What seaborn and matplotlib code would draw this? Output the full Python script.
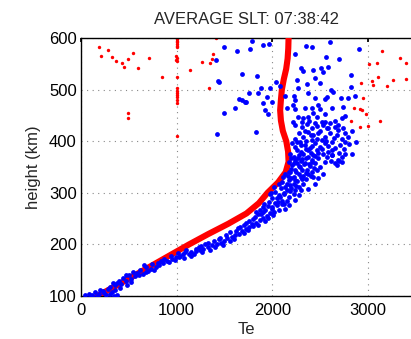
import numpy as np
import pandas as pd
import matplotlib
matplotlib.use('Agg')
import matplotlib.pyplot as plt
import seaborn as sns

# average Te profile (height km -> Te)
prof_h = [100, 120, 140, 160, 180, 200, 220, 240, 260, 280, 300, 320, 340,
          360, 380, 400, 420, 440, 460, 480, 500, 520, 540, 560, 580, 600]
prof_te = [170, 370, 560, 750, 940, 1130, 1330, 1540, 1730, 1860, 1950, 2060, 2140,
           2170, 2165, 2146, 2110, 2090, 2082, 2090, 2100, 2120, 2145, 2160, 2167, 2170]

# blue points (Te, height)
blue_band = [
    (40, 101), (80, 104), (110, 100), (150, 107), (190, 103), (230, 110), (260, 101),
    (300, 104), (340, 100), (380, 102), (200, 112), (280, 113),
    (300, 118), (360, 121), (330, 125), (420, 124), (400, 130), (470, 129), (440, 135), (520, 133),
    (500, 140), (560, 138), (590, 145), (650, 143), (620, 150), (700, 148), (730, 153),
    (680, 156), (780, 157), (820, 160),
    (800, 164), (860, 163), (900, 168), (870, 171), (950, 172), (990, 175), (940, 177),
    (1040, 178), (1070, 182), (1010, 183), (1130, 181), (1150, 186), (1100, 189), (1200, 187),
    (1240, 190), (1280, 192), (1230, 195), (1330, 194), (1370, 198), (1300, 200), (1420, 200),
    (1460, 203), (1390, 206), (1500, 207), (1440, 210),
    (1530, 212), (1580, 214), (1520, 218), (1610, 219), (1650, 221), (1560, 224), (1680, 226),
    (1720, 229), (1640, 231), (1760, 233), (1700, 237),
    (1790, 240), (1830, 242), (1760, 246), (1870, 248), (1900, 251), (1820, 254), (1940, 256),
    (1880, 259), (1980, 261), (2010, 257), (1830, 262), (1870, 266), (1900, 272), (1850, 258),
    (120, 102), (170, 100), (320, 108), (240, 106), (360, 112), (410, 116), (380, 126),
    (480, 122), (520, 128), (470, 140), (540, 146), (610, 140), (680, 147), (660, 160),
    (740, 162), (760, 150), (840, 167), (920, 165), (980, 170), (1020, 176), (1080, 174),
    (1090, 185), (1180, 182), (1260, 186), (1200, 192), (1350, 190), (1400, 195), (1330, 203),
    (1480, 198), (1450, 212), (1560, 206), (1600, 210), (1620, 226), (1700, 222), (1660, 234),
    (1750, 228), (1800, 235), (1720, 242), (1850, 238), (1800, 250), (1920, 245), (1960, 252),
    (1900, 262), (2000, 268), (1150, 178), (1250, 197),
]

blue_core = [
    (2240, 431), (2309, 428), (2361, 433), (2413, 425), (2465, 429), (2534, 431), (2569, 425),
    (2656, 428), (2691, 422), (2743, 425), (2760, 416), (2274, 415), (2326, 409), (2378, 418),
    (2430, 412), (2482, 415), (2552, 409), (2604, 415), (2673, 412), (2725, 405), (2795, 409),
    (2240, 405), (2413, 402), (2517, 402), (2205, 396), (2240, 389), (2292, 399), (2344, 392),
    (2396, 386), (2448, 396), (2500, 389), (2552, 396), (2621, 399), (2656, 386), (2708, 392),
    (2760, 399), (2257, 383), (2378, 383), (2465, 383), (2587, 379), (2187, 376), (2222, 370),
    (2274, 373), (2326, 376), (2378, 370), (2430, 373), (2482, 367), (2534, 376), (2621, 373),
    (2725, 370), (2760, 375), (2691, 363), (2240, 363), (2309, 365), (2413, 363), (2170, 360),
    (2205, 354), (2257, 357), (2292, 350), (2344, 358), (2396, 352), (2448, 357), (2500, 350),
    (2552, 360), (2656, 357), (2673, 354), (2361, 344), (2240, 344), (2465, 344), (2135, 337),
    (2187, 341), (2222, 331), (2274, 337), (2326, 332), (2378, 337), (2430, 331), (2482, 328),
    (2170, 324), (2240, 324), (2309, 326), (2413, 341), (2534, 337), (2066, 318), (2101, 321),
    (2135, 311), (2187, 315), (2222, 318), (2274, 311), (2326, 317), (2378, 308), (2153, 305),
    (2240, 305), (2448, 318), (1979, 298), (2031, 302), (2066, 295), (2118, 298), (2170, 292),
    (2222, 298), (2274, 295), (2049, 289), (2101, 285), (2153, 285), (2240, 287), (1910, 279),
    (1962, 282), (1997, 272), (2049, 276), (2101, 279), (2135, 269), (1927, 266), (2014, 263),
    (2066, 266), (2170, 276), (2626, 374), (2730, 359), (2699, 361), (2876, 398), (2834, 419),
    (1417, 413), (1834, 417),
    (2120, 300), (2180, 303), (2200, 310), (2250, 313), (2300, 306), (2090, 310), (2150, 318),
    (2260, 322), (2300, 330), (2350, 326), (2200, 328), (2160, 333), (2250, 340), (2310, 345),
    (2350, 338), (2400, 333), (2440, 348), (2200, 347), (2280, 352), (2330, 355), (2230, 358),
    (2420, 360), (2380, 356), (2300, 362), (2350, 367), (2270, 368), (2200, 368), (2450, 372),
    (2400, 378), (2300, 380), (2350, 385), (2420, 390), (2480, 378), (2520, 385), (2580, 390),
    (2620, 383), (2300, 392), (2260, 398), (2350, 400), (2470, 405), (2560, 400), (2640, 406),
    (2340, 420), (2400, 412), (2500, 420), (2580, 425), (2450, 435), (2380, 440), (2660, 440),
    (2690, 432), (2030, 280), (2080, 292), (2000, 290), (1950, 275), (2120, 278), (2060, 283),
    (1990, 300), (2020, 312), (2110, 330), (2170, 340), (2570, 370), (2610, 362), (2700, 378),
    (2750, 385), (2800, 395), (2830, 375),
]

blue_top = [
    (1792, 594), (1771, 579), (1907, 587), (1969, 588), (2355, 585), (2417, 583), (2605, 592),
    (2907, 579), (2240, 569), (2563, 563), (2699, 559), (2303, 542), (2324, 536), (2428, 538),
    (2511, 542), (2532, 534), (2584, 544), (2449, 522), (1844, 526), (2824, 528), (2042, 515),
    (2084, 507), (2261, 518), (2365, 511), (2501, 513), (2615, 499), (2636, 495), (2824, 505),
    (1886, 503), (1761, 493), (1855, 493), (1980, 503), (2272, 503), (2376, 493), (1948, 485),
    (1907, 474), (2001, 476), (2136, 487), (2230, 487), (2240, 479), (2219, 470), (2449, 483),
    (2553, 481), (2574, 485), (2720, 483), (2793, 483), (2865, 487), (1730, 476), (1928, 460),
    (1959, 452), (2157, 464), (2240, 462), (2344, 464), (2417, 464), (2480, 470), (2501, 462),
    (2428, 454), (2553, 452), (2626, 464), (2740, 466), (2272, 446), (2324, 444), (2376, 446),
    (2470, 446), (2522, 437), (2553, 437), (2730, 444), (2761, 448), (2219, 437), (2313, 437),
    (2605, 435), (1490, 583), (1636, 575), (1407, 557), (1428, 516), (1438, 514), (1688, 530),
    (1657, 481), (1688, 479), (1615, 464), (1490, 454), (1719, 476),
]

# red outliers (Te, height)
red_column = [
    (1000, 600), (1000, 598), (1000, 595), (1000, 592), (1000, 588), (1000, 585), (1000, 582),
    (995, 565), (1000, 562), (995, 558), (1000, 555), (1000, 525), (1000, 503), (1000, 498),
    (1000, 494), (1000, 490), (1000, 485), (1000, 480), (1000, 475), (1000, 411),
]
red_left = [
    (188, 583), (208, 565), (281, 577), (323, 563), (365, 555), (427, 551), (448, 544),
    (490, 559), (542, 571), (594, 542), (709, 561), (844, 524), (1136, 538), (1261, 553),
    (1344, 551), (1365, 559), (1375, 569), (1407, 600), (1334, 503), (490, 454), (490, 445),
]
red_right = [
    (3150, 575), (3095, 551), (3330, 561), (3400, 552), (3105, 524), (3260, 519), (3400, 520),
    (3050, 508), (3200, 507), (2930, 512), (2950, 484), (2855, 465), (2915, 463), (2940, 460),
    (2980, 452), (2825, 440), (2920, 428), (3000, 430), (3125, 440), (3010, 549), (3045, 517),
]

title = 'AVERAGE SLT: 07:38:42'
x_ticks = [0, 1000, 2000, 3000]
y_ticks = [100, 200, 300, 400, 500, 600]

sns.set_theme(style='white')
plt.rcParams['font.family'] = ['Liberation Sans', 'DejaVu Sans']

blue = pd.DataFrame(blue_band + blue_core + blue_top, columns=['Te', 'h'])
red = pd.DataFrame(red_column + red_left + red_right, columns=['Te', 'h'])
prof = pd.DataFrame({'Te': prof_te, 'h': prof_h})

fig = plt.figure(figsize=(4.11, 3.39), dpi=100)
ax = fig.add_axes([81 / 411, 43 / 339, 330 / 411, 258 / 339])

sns.scatterplot(data=red, x='Te', y='h', color='#ff0000', s=6, linewidth=0, ax=ax, zorder=2)
sns.lineplot(data=prof, x='Te', y='h', sort=False, estimator=None, color='#ff0000',
             linewidth=4.4, ax=ax, zorder=3)
sns.scatterplot(data=blue, x='Te', y='h', color='#0000ff', s=12, linewidth=0, ax=ax, zorder=4)

ax.set_xlim(0, 3450)
ax.set_ylim(100, 600)
ax.set_xticks(x_ticks)
ax.set_yticks(y_ticks)
ax.grid(True, linestyle=(0, (1, 4)), color='#888888', linewidth=0.8)
ax.tick_params(direction='in', length=3, labelsize=12, top=True, right=False,
               colors='black', pad=3)
ax.tick_params(axis='x', pad=5)
for side in ['left', 'bottom', 'top']:
    ax.spines[side].set_color('black')
    ax.spines[side].set_linewidth(1.0)
ax.spines['right'].set_visible(False)

ax.set_xlabel('Te', fontsize=12, labelpad=3)
ax.set_ylabel('height (km)', fontsize=12, labelpad=6)
ax.set_title(title, fontsize=12, pad=10)

fig.savefig('out.png', dpi=100)
